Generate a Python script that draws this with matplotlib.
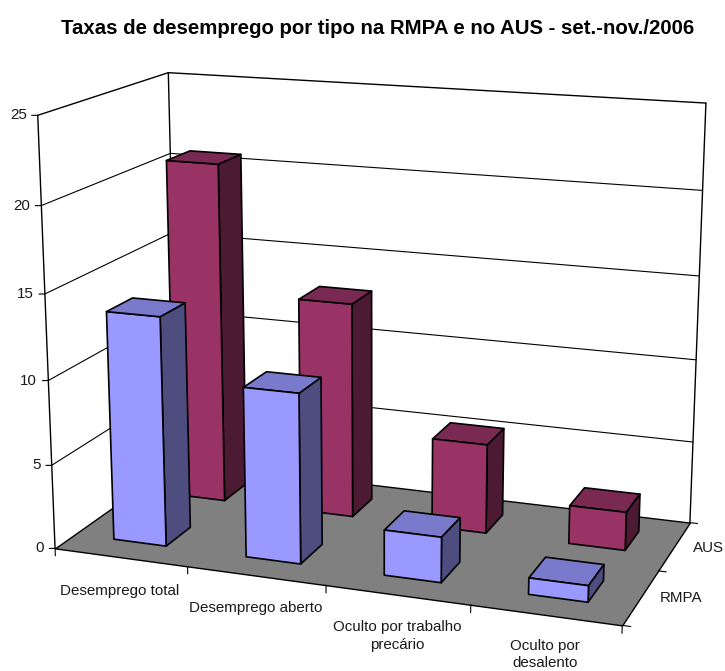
import numpy as np
import matplotlib
matplotlib.use("Agg")
import matplotlib.pyplot as plt
from mpl_toolkits.mplot3d import proj3d
from mpl_toolkits.mplot3d.art3d import Poly3DCollection

plt.rcParams['font.family'] = ['Liberation Sans', 'DejaVu Sans']

# data
categories = ["Desemprego total", "Desemprego aberto",
              "Oculto por trabalho\nprecário", "Oculto por\ndesalento"]
series_names = ["RMPA", "AUS"]
rmpa = [13.6, 10.0, 2.65, 0.95]
aus = [20.75, 13.05, 5.4, 2.3]
z_ticks = [0, 5, 10, 15, 20, 25]

W, H = 725, 671
fig = plt.figure(figsize=(W/100, H/100), dpi=100)
ax = fig.add_axes([0, 0, 1, 1], projection='3d')
ax.set_axis_off()
ax.computed_zorder = False
ax.apply_aspect = lambda position=None: None  # keep the axes over the whole figure

x_max, y_max, z_max = len(categories), len(series_names), z_ticks[-1]

# camera: excel's 3d box corners -> where they land in the picture
box = [(0, 0, 0), (x_max, 0, 0), (x_max, y_max, 0), (0, y_max, 0),
       (0, 0, z_max), (0, y_max, z_max), (x_max, y_max, z_max)]
box_px = [(55, 549), (622, 625), (690, 523), (178, 461),
          (38, 115), (168, 73), (706, 103)]
view = ax.transData.inverted().transform([(u, H-v) for u, v in box_px])
A, b = [], []
for (X, Y, Z), (u, v) in zip(box, view):
    A.append([X, Y, Z, 1, 0, 0, 0, 0, -u*X, -u*Y, -u*Z])
    A.append([0, 0, 0, 0, X, Y, Z, 1, -v*X, -v*Y, -v*Z])
    b += [u, v]
p = np.linalg.lstsq(np.array(A), np.array(b), rcond=None)[0]
M = np.array([p[:4], p[4:8], [0, 0, 0, -1], [p[8], p[9], p[10], 1]])
ax.get_proj = lambda: M

def line(xs, ys, zs, lw=1.0, z=2):
    ax.plot(xs, ys, zs, color='black', lw=lw, zorder=z, solid_capstyle='round')

# floor
floor = Poly3DCollection([[(0, 0, 0), (x_max, 0, 0), (x_max, y_max, 0), (0, y_max, 0)]],
                         facecolors='#808080', edgecolors='black', linewidths=1.0, zorder=1)
ax.add_collection3d(floor)

# walls and grid
for t in z_ticks[1:]:
    w = 1.0 if t == z_max else 0.8
    line([0, 0], [0, y_max], [t, t], w)
    line([0, x_max], [y_max, y_max], [t, t], w)
line([0, 0], [0, 0], [0, z_max])
line([0, 0], [y_max, y_max], [0, z_max])
line([x_max, x_max], [y_max, y_max], [0, z_max])

# ticks
for t in z_ticks:
    line([0, -0.036], [0, -0.016], [t, t], 0.8)
    u, v, _ = proj3d.proj_transform(0, 0, t, M)
    ax.annotate(str(t), (u, v), xytext=(-8, 0), textcoords='offset points',
                ha='right', va='center', fontsize=10.9, color='#1a1a1a')
for i in range(x_max + 1):
    line([i, i], [0, 0], [0, -0.45], 0.8)
for j in range(y_max + 1):
    line([x_max, x_max+0.055], [j, j], [0, 0], 0.8)

# bars
width = 0.4
def bar(i, j, val, front, top, side, z):
    clear = (0, 0, 0, 0)
    fc = [clear, top, front, clear, clear, side]
    ec = [clear, 'black', 'black', clear, clear, 'black']
    col = ax.bar3d(i+0.3, j+0.3, 0, width, width, val, color=fc, edgecolor=ec,
                   shade=False, linewidth=1.2, zorder=z)
    return col

for i, val in enumerate(aus):
    bar(i, 1, val, '#993366', '#7A2952', '#4D1A33', 5)
for i, val in enumerate(rmpa):
    bar(i, 0, val, '#9999FF', '#7A7ACC', '#4D4D80', 6)

# labels
label_off = [(-0.7, -24), (-0.4, -23.5), (-0.4, -29.4), (-0.4, -28.6)]
spacing = [1.4, 1.4, 1.4, 1.25]
for i, name in enumerate(categories):
    u, v, _ = proj3d.proj_transform(i+0.5, 0, 0, M)
    ax.annotate(name, (u, v), xytext=label_off[i], textcoords='offset points',
                ha='center', va='center', fontsize=10.9, color='#1a1a1a',
                linespacing=spacing[i])
for j, name in enumerate(series_names):
    u, v, _ = proj3d.proj_transform(x_max, j+0.5, 0, M)
    ax.annotate(name, (u, v), xytext=(13.5, -1 + 0.7*(j*2-1)*-1), textcoords='offset points',
                ha='left', va='center', fontsize=10.9, color='#1a1a1a')

fig.text(377.5/W, 1-28/H, "Taxas de desemprego por tipo na RMPA e no AUS - set.-nov./2006",
         ha='center', va='center', fontsize=14.65, fontweight='bold')

fig.savefig("out.png", dpi=100)
